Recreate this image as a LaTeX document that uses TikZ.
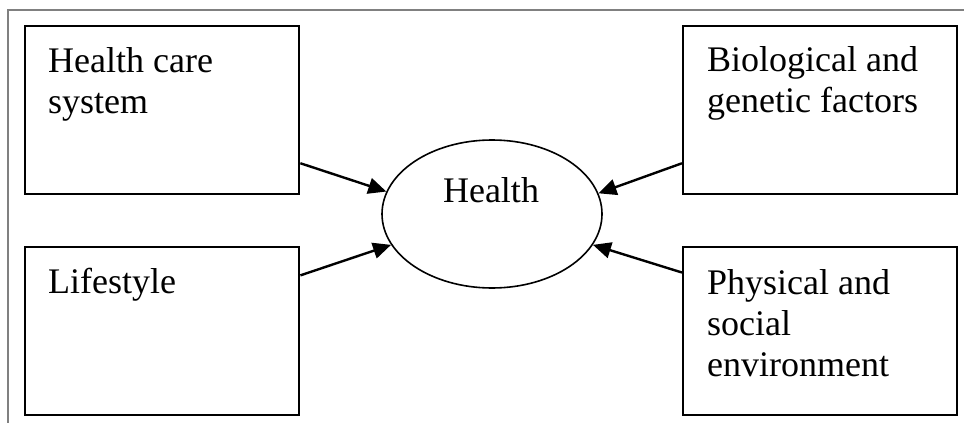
\documentclass[tikz,border=0pt]{standalone}
\usepackage{fontspec}
\setmainfont{Liberation Serif}
\usetikzlibrary{arrows.meta,shapes.geometric}
\begin{document}
\begin{tikzpicture}[x=1pt,y=-1pt,
  factor/.style={draw, line width=2.4pt, minimum width=274pt, minimum height=168pt, inner sep=0pt, anchor=north west},
  lbl/.style={anchor=base west, inner sep=0pt, align=left, font=\fontsize{36}{41}\selectfont},
  arr/.style={line width=2.4pt, -{Triangle[length=18pt,width=16pt]}},
]
\useasboundingbox (0,0) rectangle (964,423);
\draw[gray, line width=1.5pt] (8,423) -- (8,10) -- (964,10);
\node[factor] (hcs) at (24,25) {};
\node[factor] (life) at (24,246) {};
\node[factor] (bio) at (682,25) {};
\node[factor] (phys) at (682,246) {};
\node[lbl] (thcs) at (48,113) {Health care\\system};
\node[lbl] (tlife) at (48,293) {Lifestyle};
\node[lbl] (tbio) at (707,112) {Biological and\\genetic factors};
\node[lbl] (tphys) at (707,376) {Physical and\\social\\environment};
\node[draw, ellipse, line width=1.6pt, minimum width=220pt, minimum height=148pt, inner sep=0pt] (health) at (492,214) {};
\node[anchor=base, inner sep=0pt, font=\fontsize{36}{41}\selectfont] (thealth) at (491,202) {Health};
\draw[arr] (hcs.-21.5) -- (health.168.9);
\draw[arr] (life.22.8) -- (health.-163.6);
\draw[arr] (bio.201.4) -- (health.11.3);
\draw[arr] (phys.157.7) -- (health.-17.2);
\end{tikzpicture}
\end{document}
